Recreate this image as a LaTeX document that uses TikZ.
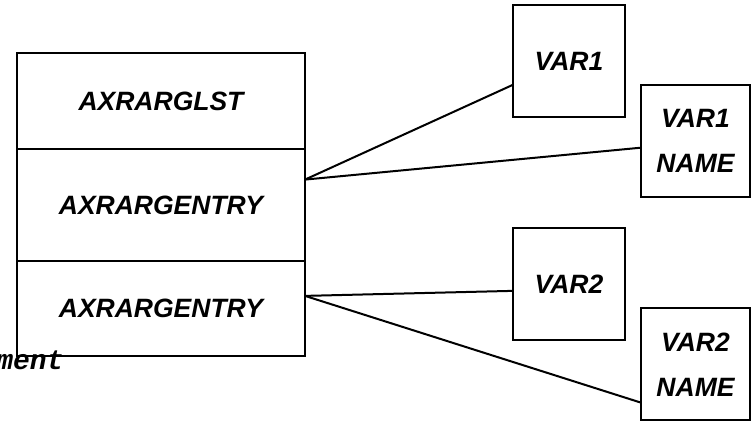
\documentclass[tikz,border=0pt]{standalone}
\usepackage{fontspec}
\setmainfont{Liberation Sans}
\setmonofont{Liberation Mono}
\usepackage{tikz}
\usetikzlibrary{positioning}

\begin{document}
\begin{tikzpicture}[
  x=0.5pt, y=-0.5pt,
  font=\fontsize{13.25}{22.5}\selectfont\bfseries\itshape,
  cell/.style={rectangle,draw,line width=1pt,outer sep=0pt,inner sep=0pt,
               minimum width=144pt,align=center},
  varbox/.style={rectangle,draw,line width=1pt,outer sep=0pt,inner sep=0pt,
                 minimum width=56pt,minimum height=56pt,align=center},
  namebox/.style={rectangle,draw,line width=1pt,outer sep=0pt,inner sep=0pt,
                  minimum width=54.5pt,minimum height=56pt,align=center},
  link/.style={line width=1pt}
]
\path[use as bounding box,clip] (0,0) rectangle (752,421);

% ---- argument list ----
\node[cell,minimum height=48pt] (arglst) at (161,101) {AXRARGLST};
\node[cell,minimum height=56pt,below=0pt of arglst] (entry1) {AXRARGENTRY};
\node[cell,minimum height=47.5pt,below=0pt of entry1] (entry2) {AXRARGENTRY};
\node[font=\fontsize{14}{16}\selectfont\ttfamily\bfseries\itshape,
      inner sep=0pt,anchor=base east] (tail) at (64,370) {ment};

% ---- first variable ----
\node[varbox] (var1) at (569,61) {VAR1};
\node[namebox] (var1name) at (695.5,141) {VAR1\\NAME};
\draw[link] (entry1.10) -- (var1.203);
\draw[link] (entry1.10) -- (var1name.187);

% ---- second variable ----
\node[varbox] (var2) at (569,284) {VAR2};
\node[namebox] (var2name) at (695.5,364.5) {VAR2\\NAME};
\draw[link] (entry2.5) -- (var2.187);
\draw[link] (entry2.5) -- (var2name.215);

\end{tikzpicture}
\end{document}
